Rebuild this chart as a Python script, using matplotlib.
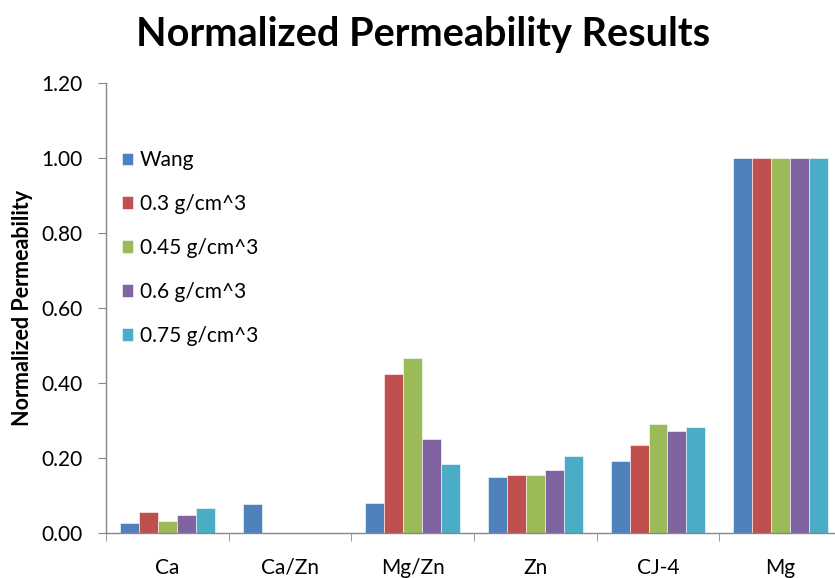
import numpy as np
import matplotlib.pyplot as plt
from matplotlib.ticker import FixedLocator

plt.rcParams['font.family'] = ['Lato', 'DejaVu Sans']

categories = ['Ca', 'Ca/Zn', 'Mg/Zn', 'Zn', 'CJ-4', 'Mg']
series_names = ['Wang', '0.3 g/cm^3', '0.45 g/cm^3', '0.6 g/cm^3', '0.75 g/cm^3']
wang = [0.028, 0.078, 0.081, 0.149, 0.192, 1.00]
d030 = [0.056, 0.0, 0.425, 0.155, 0.235, 1.00]
d045 = [0.032, 0.0, 0.467, 0.155, 0.290, 1.00]
d060 = [0.048, 0.0, 0.250, 0.167, 0.272, 1.00]
d075 = [0.066, 0.0, 0.185, 0.206, 0.283, 1.00]
colors = ['#4F81BD', '#C0504D', '#9BBB59', '#8064A2', '#4BACC6']

values = [wang, d030, d045, d060, d075]

fig = plt.figure(figsize=(8.35, 5.78), dpi=100)
ax = fig.add_axes([106/835, 1 - 533/578, 736/835, (533 - 83)/578])

x = np.arange(len(categories))
w = 0.154
for i, (vals, name, c) in enumerate(zip(values, series_names, colors)):
    ax.bar(x + (i - 2) * w, vals, width=w, color=c, label=name,
           edgecolor='white', linewidth=0.4)

ax.set_xlim(-0.5, len(categories) - 0.5)
ax.set_ylim(0, 1.2)
ax.set_yticks(np.arange(0, 1.21, 0.2))
ax.set_yticklabels(['%.2f' % v for v in np.arange(0, 1.21, 0.2)], fontsize=15)
ax.set_xticks(x)
ax.set_xticklabels(categories, fontsize=15)
ax.xaxis.set_minor_locator(FixedLocator(np.arange(-0.5, len(categories), 1.0)))
ax.tick_params(axis='x', which='major', length=0, pad=18)
ax.tick_params(axis='x', which='minor', length=6, color='#888888', direction='out')
ax.tick_params(axis='y', length=6, color='#888888', direction='out', pad=11)

for s in ['top', 'right']:
    ax.spines[s].set_visible(False)
for s in ['left', 'bottom']:
    ax.spines[s].set_color('#888888')
    ax.spines[s].set_linewidth(1.0)

ax.set_ylabel('Normalized Permeability', fontsize=15.5, fontweight='bold', labelpad=6)

ax.legend(loc='upper left', bbox_to_anchor=(0.0217, 0.851), frameon=False,
          fontsize=15, handlelength=0.53, handleheight=0.53,
          handletextpad=0.32, labelspacing=1.15, borderpad=0, borderaxespad=0)

fig.text(0.507, 0.94, 'Normalized Permeability Results', ha='center', va='center',
         fontsize=28.5, fontweight='bold')

fig.savefig('out.png', dpi=100)
